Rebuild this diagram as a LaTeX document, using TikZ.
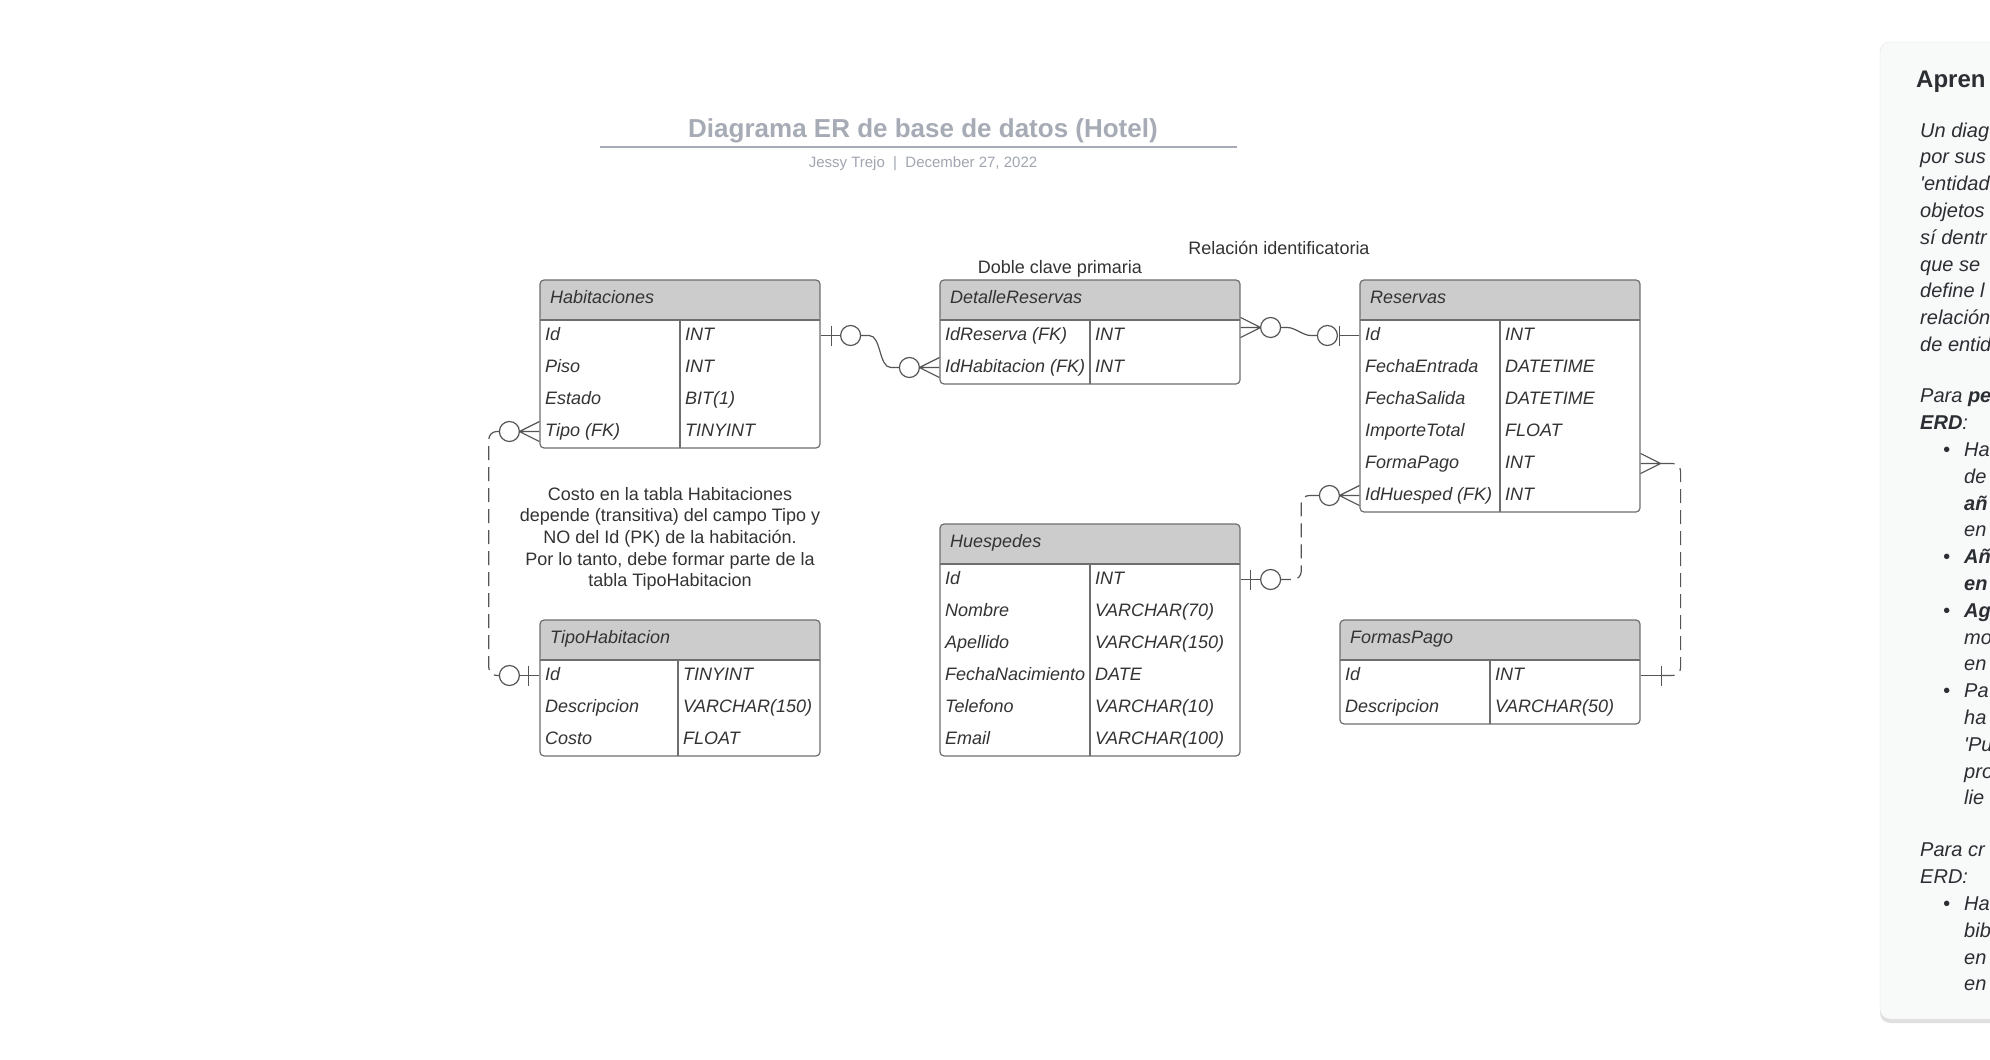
\documentclass[tikz,border=0pt]{standalone}
\usepackage{fontspec}
\setmainfont{Liberation Sans}
\usetikzlibrary{shadows}
\definecolor{tline}{HTML}{6E6E6E}
\definecolor{hgray}{HTML}{CCCCCC}
\definecolor{ttext}{HTML}{333333}
\definecolor{conn}{HTML}{555555}
\definecolor{ttlgray}{HTML}{A6ABB5}
\definecolor{subgray}{HTML}{A0A5AF}
\definecolor{pnlfill}{HTML}{F8F9F9}
\definecolor{ptext}{HTML}{2B2E33}
\newcommand{\pbul}{\hspace*{23pt}\makebox[21pt][l]{\textbullet}}
\newcommand{\pind}{\hspace*{44pt}}
\begin{document}
\begin{tikzpicture}[x=1pt,y=-1pt]
\tikzset{tbl/.style={draw=tline,line width=1.2pt,rounded corners=4pt,inner sep=0pt,
  path picture={
    \fill[hgray] (path picture bounding box.north west) rectangle ([yshift=-40pt]path picture bounding box.north east);
    \draw[tline,line width=1.2pt] ([yshift=-40pt]path picture bounding box.north west) -- ([yshift=-40pt]path picture bounding box.north east);
    \draw[tline,line width=1.2pt] ([shift={(#1,-40pt)}]path picture bounding box.north west) -- ([xshift=#1]path picture bounding box.south west);}}}
\tikzset{rel/.style={draw=conn,line width=1.2pt}}
\tikzset{reldash/.style={rel,dash pattern=on 14pt off 7pt}}
\tikzstyle{hdr}=[anchor=base west,inner sep=0pt,text=ttext,font=\fontsize{18pt}{21.6pt}\selectfont\itshape]
\tikzstyle{fld}=[anchor=base west,inner sep=0pt,text height=13pt,text depth=4pt,text=ttext,font=\fontsize{18pt}{21.6pt}\selectfont\itshape]
\tikzstyle{opt}=[draw=conn,line width=1.2pt,circle,fill=white,minimum size=20pt,inner sep=0pt]
\tikzstyle{lbl}=[anchor=base,inner sep=0pt,text=ttext,font=\fontsize{18pt}{21.6pt}\selectfont]
\tikzstyle{pnltxt}=[anchor=north west,inner sep=0pt,align=left,text=ptext,font=\fontsize{20pt}{26.8pt}\selectfont\itshape]
\path[use as bounding box,fill=white] (0,0) rectangle (1990,1060);

\node[anchor=base,inner sep=0pt,text=ttlgray,font=\fontsize{26pt}{30pt}\selectfont\bfseries] (title) at (923,137) {Diagrama ER de base de datos (Hotel)};
\draw[ttlgray,line width=2pt] (600,147) -- (1237,147);
\node[anchor=base,inner sep=0pt,text=subgray,font=\fontsize{15pt}{18pt}\selectfont] (subtitle) at (923,167) {Jessy Trejo~~|~~December 27, 2022};

\node[lbl] (dobleclave) at (1060,273) {Doble clave primaria};
\node[lbl] (relident) at (1279,254) {Relación identificatoria};
\node[lbl,anchor=north,align=center] (nota) at (670,487) {Costo en la tabla Habitaciones\\depende (transitiva) del campo Tipo y\\NO del Id (PK) de la habitación.\\Por lo tanto, debe formar parte de la\\tabla TipoHabitacion};

\node[tbl=140pt,minimum width=280pt,minimum height=168pt] (hab) at (680,364) {};
\node[hdr] (hab-h) at (550,303) {Habitaciones};
\node[fld] (hab-id) at (545,340) {Id};
\node[fld] (hab-id-ty) at (685,340) {INT};
\node[fld] (hab-piso) at (545,372) {Piso};
\node[fld] (hab-piso-ty) at (685,372) {INT};
\node[fld] (hab-estado) at (545,404) {Estado};
\node[fld] (hab-estado-ty) at (685,404) {BIT(1)};
\node[fld] (hab-tipo) at (545,436) {Tipo (FK)};
\node[fld] (hab-tipo-ty) at (685,436) {TINYINT};

\node[tbl=150pt,minimum width=300pt,minimum height=104pt] (det) at (1090,332) {};
\node[hdr] (det-h) at (950,303) {DetalleReservas};
\node[fld] (det-idres) at (945,340) {IdReserva (FK)};
\node[fld] (det-idres-ty) at (1095,340) {INT};
\node[fld] (det-idhab) at (945,372) {IdHabitacion (FK)};
\node[fld] (det-idhab-ty) at (1095,372) {INT};

\node[tbl=140pt,minimum width=280pt,minimum height=232pt] (res) at (1500,396) {};
\node[hdr] (res-h) at (1370,303) {Reservas};
\node[fld] (res-id) at (1365,340) {Id};
\node[fld] (res-id-ty) at (1505,340) {INT};
\node[fld] (res-fe) at (1365,372) {FechaEntrada};
\node[fld] (res-fe-ty) at (1505,372) {DATETIME};
\node[fld] (res-fs) at (1365,404) {FechaSalida};
\node[fld] (res-fs-ty) at (1505,404) {DATETIME};
\node[fld] (res-imp) at (1365,436) {ImporteTotal};
\node[fld] (res-imp-ty) at (1505,436) {FLOAT};
\node[fld] (res-fp) at (1365,468) {FormaPago};
\node[fld] (res-fp-ty) at (1505,468) {INT};
\node[fld] (res-idh) at (1365,500) {IdHuesped (FK)};
\node[fld] (res-idh-ty) at (1505,500) {INT};

\node[tbl=138pt,minimum width=280pt,minimum height=136pt] (tip) at (680,688) {};
\node[hdr] (tip-h) at (550,643) {TipoHabitacion};
\node[fld] (tip-id) at (545,680) {Id};
\node[fld] (tip-id-ty) at (683,680) {TINYINT};
\node[fld] (tip-desc) at (545,712) {Descripcion};
\node[fld] (tip-desc-ty) at (683,712) {VARCHAR(150)};
\node[fld] (tip-costo) at (545,744) {Costo};
\node[fld] (tip-costo-ty) at (683,744) {FLOAT};

\node[tbl=150pt,minimum width=300pt,minimum height=232pt] (hue) at (1090,640) {};
\node[hdr] (hue-h) at (950,547) {Huespedes};
\node[fld] (hue-id) at (945,584) {Id};
\node[fld] (hue-id-ty) at (1095,584) {INT};
\node[fld] (hue-nom) at (945,616) {Nombre};
\node[fld] (hue-nom-ty) at (1095,616) {VARCHAR(70)};
\node[fld] (hue-ape) at (945,648) {Apellido};
\node[fld] (hue-ape-ty) at (1095,648) {VARCHAR(150)};
\node[fld] (hue-fn) at (945,680) {FechaNacimiento};
\node[fld] (hue-fn-ty) at (1095,680) {DATE};
\node[fld] (hue-tel) at (945,712) {Telefono};
\node[fld] (hue-tel-ty) at (1095,712) {VARCHAR(10)};
\node[fld] (hue-mail) at (945,744) {Email};
\node[fld] (hue-mail-ty) at (1095,744) {VARCHAR(100)};

\node[tbl=150pt,minimum width=300pt,minimum height=104pt] (fpg) at (1490,672) {};
\node[hdr] (fpg-h) at (1350,643) {FormasPago};
\node[fld] (fpg-id) at (1345,680) {Id};
\node[fld] (fpg-id-ty) at (1495,680) {INT};
\node[fld] (fpg-desc) at (1345,712) {Descripcion};
\node[fld] (fpg-desc-ty) at (1495,712) {VARCHAR(50)};

% Habitaciones.Tipo - TipoHabitacion.Id
\coordinate (a1) at (hab.west |- hab-tipo);
\coordinate (a2) at (tip.west |- tip-id);
\draw[rel] (a1) -- ++(-20pt,0pt) ([yshift=10pt]a1) -- ([xshift=-20pt]a1) -- ([yshift=-10pt]a1);
\draw[rel] (a2) -- ++(-20pt,0pt) ([shift={(-11pt,10pt)}]a2) -- ++(0pt,-20pt);
\node[opt] (o1) at ([xshift=-30pt]a1) {};
\node[opt] (o2) at ([xshift=-30pt]a2) {};
\draw[reldash,rounded corners=8pt] (o1.west) -| ([xshift=-10pt]o2.west) -- (o2.west);

% Habitaciones.Id - DetalleReservas.IdHabitacion
\coordinate (b1) at (hab.east |- hab-id);
\coordinate (b2) at (det.west |- det-idhab);
\draw[rel] (b1) -- ++(20pt,0pt) ([shift={(11pt,10pt)}]b1) -- ++(0pt,-20pt);
\draw[rel] (b2) -- ++(-20pt,0pt) ([yshift=10pt]b2) -- ([xshift=-20pt]b2) -- ([yshift=-10pt]b2);
\node[opt] (o3) at ([xshift=30pt]b1) {};
\node[opt] (o4) at ([xshift=-30pt]b2) {};
\draw[rel] (o3.east) -- ++(8pt,0pt) .. controls +(12pt,0pt) and +(-12pt,0pt) .. ([xshift=-8pt]o4.west) -- (o4.west);

% DetalleReservas - Reservas.Id
\coordinate (c0) at (det.east |- det-idres);
\coordinate (c1) at ([yshift=8pt]c0);
\coordinate (c2) at (res.west |- res-id);
\draw[rel] (c1) -- ++(20pt,0pt) ([yshift=10pt]c1) -- ([xshift=20pt]c1) -- ([yshift=-10pt]c1);
\draw[rel] (c2) -- ++(-20pt,0pt) ([shift={(-20pt,10pt)}]c2) -- ++(0pt,-20pt);
\node[opt] (o5) at ([xshift=30pt]c1) {};
\node[opt] (o6) at ([xshift=-32pt]c2) {};
\draw[rel] (o5.east) -- ++(6pt,0pt) .. controls +(8pt,0pt) and +(-8pt,0pt) .. ([xshift=-6pt]o6.west) -- (o6.west);

% Reservas.IdHuesped - Huespedes.Id
\coordinate (d1) at (res.west |- res-idh);
\coordinate (d2) at (hue.east |- hue-id);
\draw[rel] (d1) -- ++(-20pt,0pt) ([yshift=10pt]d1) -- ([xshift=-20pt]d1) -- ([yshift=-10pt]d1);
\draw[rel] (d2) -- ++(20pt,0pt) ([shift={(10pt,10pt)}]d2) -- ++(0pt,-20pt);
\node[opt] (o7) at ([xshift=-30pt]d1) {};
\node[opt] (o8) at ([xshift=30pt]d2) {};
\draw[reldash,rounded corners=8pt] (o7.west) -| ([xshift=20pt]o8.east) -- (o8.east);

% Reservas.FormaPago - FormasPago.Id
\coordinate (e1) at (res.east |- res-fp);
\coordinate (e2) at (fpg.east |- fpg-id);
\draw[rel] (e1) -- ++(20pt,0pt) ([yshift=10pt]e1) -- ([xshift=20pt]e1) -- ([yshift=-10pt]e1);
\draw[rel] (e2) -- ++(20pt,0pt) ([shift={(21pt,10pt)}]e2) -- ++(0pt,-20pt);
\draw[reldash,rounded corners=8pt] ([xshift=20pt]e1) -| ([xshift=40pt]e2) -- ([xshift=20pt]e2);

% panel
\path[fill=pnlfill,draw=black!10,rounded corners=10pt,drop shadow={opacity=0.25,shadow xshift=0pt,shadow yshift=-4pt}] (1880,42) rectangle (2040,1019);
\node[anchor=base west,inner sep=0pt,text=ptext,font=\fontsize{24pt}{28pt}\selectfont\bfseries] (pnl-head) at (1916,87) {Apren};
\node[pnltxt] (pnl-p1) at (1920,122.5) {Un diag\\por sus\\\textquotesingle entidad\\objetos\\sí dentr\\que se\\define l\\relación\\de entid};
\node[pnltxt] (pnl-p2) at (1920,389) {Para \textbf{pe}\\\textbf{ERD}:\\\pbul Ha\\\pind de\\\pind\textbf{añ}\\\pind en\\\pbul\textbf{Añ}\\\pind\textbf{en}\\\pbul\textbf{Ag}\\\pind mo\\\pind en\\\pbul Pa\\\pind ha\\\pind\textquotesingle Pu\\\pind pro\\\pind lie};
\node[pnltxt] (pnl-p3) at (1920,843) {Para cr\\ERD:\\\pbul Ha\\\pind bib\\\pind en\\\pind en};
\end{tikzpicture}
\end{document}
